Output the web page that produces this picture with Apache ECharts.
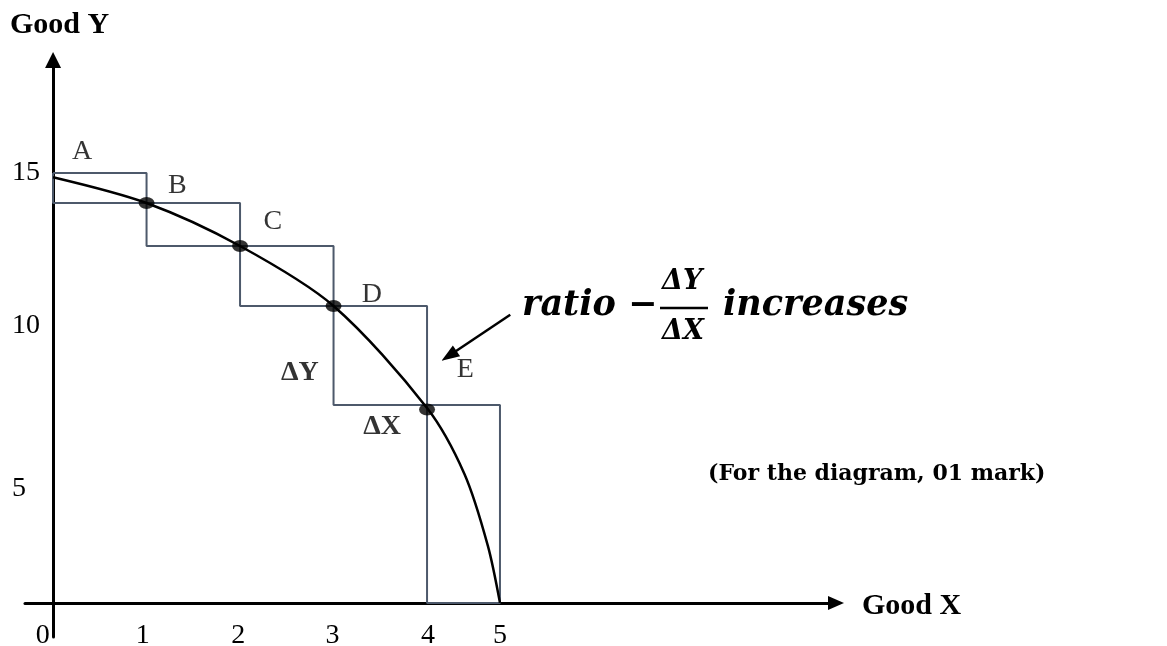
<!DOCTYPE html>
<html>
<head>
<meta charset="utf-8">
<script src="https://cdn.jsdelivr.net/npm/echarts@6/dist/echarts.min.js"></script>
<style>
html, body { margin: 0; padding: 0; background: #fff; }
#chart { width: 1167px; height: 646px; }
</style>
</head>
<body>
<div id="chart"></div>
<script>
// step corners on the curve, A..F
var stepX = [0, 1, 2, 3, 4, 4.78];
var stepY = [15, 13.95, 12.45, 10.36, 6.9, 0];
// points
var curveX = [0, 1, 2, 3, 4, 4.4, 4.65, 4.78];
var curveY = [14.85, 13.95, 12.45, 10.36, 6.8, 4.5, 2.0, 0];
// black dots B..E
var dotX = [1, 2, 3, 4];
var dotY = [13.95, 12.45, 10.36, 6.75];
// point letters
var letterText = ['A', 'B', 'C', 'D', 'E'];
var letterX = [0.31, 1.33, 2.35, 3.41, 4.41];
var letterY = [15.73, 14.55, 13.29, 10.74, 8.13];
var deltaText = ['ΔY', 'ΔX'];
var deltaX = [2.64, 3.52];
var deltaY = [8.02, 6.14];
// tick labels (drawn where the picture has them)
var xTickValues = [-0.11, 0.96, 1.98, 2.99, 4.01, 4.78];
var xTickLabels = ['0', '1', '2', '3', '4', '5'];
var yTickValues = [15, 9.66, 3.98];
var yTickLabels = ['15', '10', '5'];
// arrow pointing at the curve
var arrowFrom = [4.89, 10.05];
var arrowTo = [4.235, 8.62];

var serif = '"Liberation Serif", "Times New Roman", serif';
var mathFont = '"DejaVu Serif", serif';
var boxColor = '#4d596b';

function pairs(xs, ys) {
    var out = [];
    for (var i = 0; i < xs.length; i++) {
        out.push([xs[i], ys[i]]);
    }
    return out;
}

var series = [];

// rectangles between neighbouring points
for (var i = 0; i < stepX.length - 1; i++) {
    series.push({
        type: 'line',
        data: [
            [stepX[i], stepY[i]],
            [stepX[i + 1], stepY[i]],
            [stepX[i + 1], stepY[i + 1]],
            [stepX[i], stepY[i + 1]],
            [stepX[i], stepY[i]]
        ],
        symbol: 'none',
        lineStyle: {color: boxColor, width: 2},
        z: 2,
        silent: true
    });
}

series.push({
    type: 'line',
    data: pairs(curveX, curveY),
    smooth: 0.3,
    symbol: 'none',
    lineStyle: {color: '#000', width: 2.5},
    z: 3,
    markLine: {
        silent: true,
        symbol: ['none', 'triangle'],
        symbolSize: [13, 18],
        label: {show: false},
        lineStyle: {color: '#000', width: 2.5, type: 'solid'},
        data: [[{coord: arrowFrom}, {coord: arrowTo}]]
    }
});

series.push({
    type: 'scatter',
    data: pairs(dotX, dotY),
    symbol: 'circle',
    symbolSize: [16, 12],
    itemStyle: {color: '#000'},
    z: 4
});

var letterData = [];
for (var j = 0; j < letterText.length; j++) {
    letterData.push({value: [letterX[j], letterY[j]], name: letterText[j]});
}
series.push({
    type: 'scatter',
    data: letterData,
    symbolSize: 1,
    itemStyle: {color: 'rgba(0,0,0,0)'},
    label: {
        show: true,
        position: 'inside',
        formatter: '{b}',
        color: '#000',
        fontFamily: serif,
        fontSize: 28
    },
    z: 5
});

var deltaData = [];
for (var k = 0; k < deltaText.length; k++) {
    deltaData.push({value: [deltaX[k], deltaY[k]], name: deltaText[k]});
}
series.push({
    type: 'scatter',
    data: deltaData,
    symbolSize: 1,
    itemStyle: {color: 'rgba(0,0,0,0)'},
    label: {
        show: true,
        position: 'inside',
        formatter: '{b}',
        color: '#000',
        fontFamily: serif,
        fontWeight: 'bold',
        fontSize: 28
    },
    z: 5
});

var myChart = echarts.init(document.getElementById('chart'));
var option = {
    animation: false,
    backgroundColor: '#fff',
    grid: {left: 25, top: 60, width: 811, height: 577, containLabel: false, outerBoundsMode: 'none'},
    xAxis: {
        type: 'value',
        min: -0.3,
        max: 8.374,
        axisLine: {
            onZero: true,
            symbol: ['none', 'triangle'],
            symbolSize: [14, 16],
            lineStyle: {color: '#000', width: 3}
        },
        axisTick: {show: false},
        splitLine: {show: false},
        axisLabel: {
            customValues: xTickValues,
            margin: -15,
            color: '#000',
            fontFamily: serif,
            fontSize: 28,
            formatter: function (v) {
                return xTickLabels[xTickValues.indexOf(v)];
            }
        }
    },
    yAxis: {
        type: 'value',
        min: -1.19,
        max: 18.94,
        axisLine: {
            onZero: true,
            symbol: ['none', 'triangle'],
            symbolSize: [16, 16],
            lineStyle: {color: '#000', width: 3}
        },
        axisTick: {show: false},
        splitLine: {show: false},
        axisLabel: {
            customValues: yTickValues,
            margin: 13,
            align: 'left',
            color: '#000',
            fontFamily: serif,
            fontSize: 28,
            formatter: function (v) {
                return yTickLabels[yTickValues.indexOf(v)];
            }
        }
    },
    graphic: [
        {type: 'text', left: 10, top: 10, style: {text: 'Good Y', font: 'bold 30px ' + serif, fill: '#000'}},
        {type: 'text', left: 862, top: 591, style: {text: 'Good X', font: 'bold 30px ' + serif, fill: '#000'}},
        {type: 'text', left: 522, top: 288, style: {text: 'ratio −', font: 'italic bold 35px ' + mathFont, fill: '#000'}},
        {type: 'text', left: 662, top: 268, style: {text: 'ΔY', font: 'italic bold 27px ' + mathFont, fill: '#000'}},
        {type: 'line', shape: {x1: 660, y1: 308, x2: 708, y2: 308}, style: {stroke: '#000', lineWidth: 2.5}},
        {type: 'text', left: 662, top: 318, style: {text: 'ΔX', font: 'italic bold 27px ' + mathFont, fill: '#000'}},
        {type: 'text', left: 723, top: 288, style: {text: 'increases', font: 'italic bold 35px ' + mathFont, fill: '#000'}},
        {type: 'text', left: 708, top: 463, style: {text: '(For the diagram, 01 mark)', font: 'bold 22px ' + mathFont, fill: '#000'}}
    ],
    series: series
};
myChart.setOption(option);
</script>
</body>
</html>
